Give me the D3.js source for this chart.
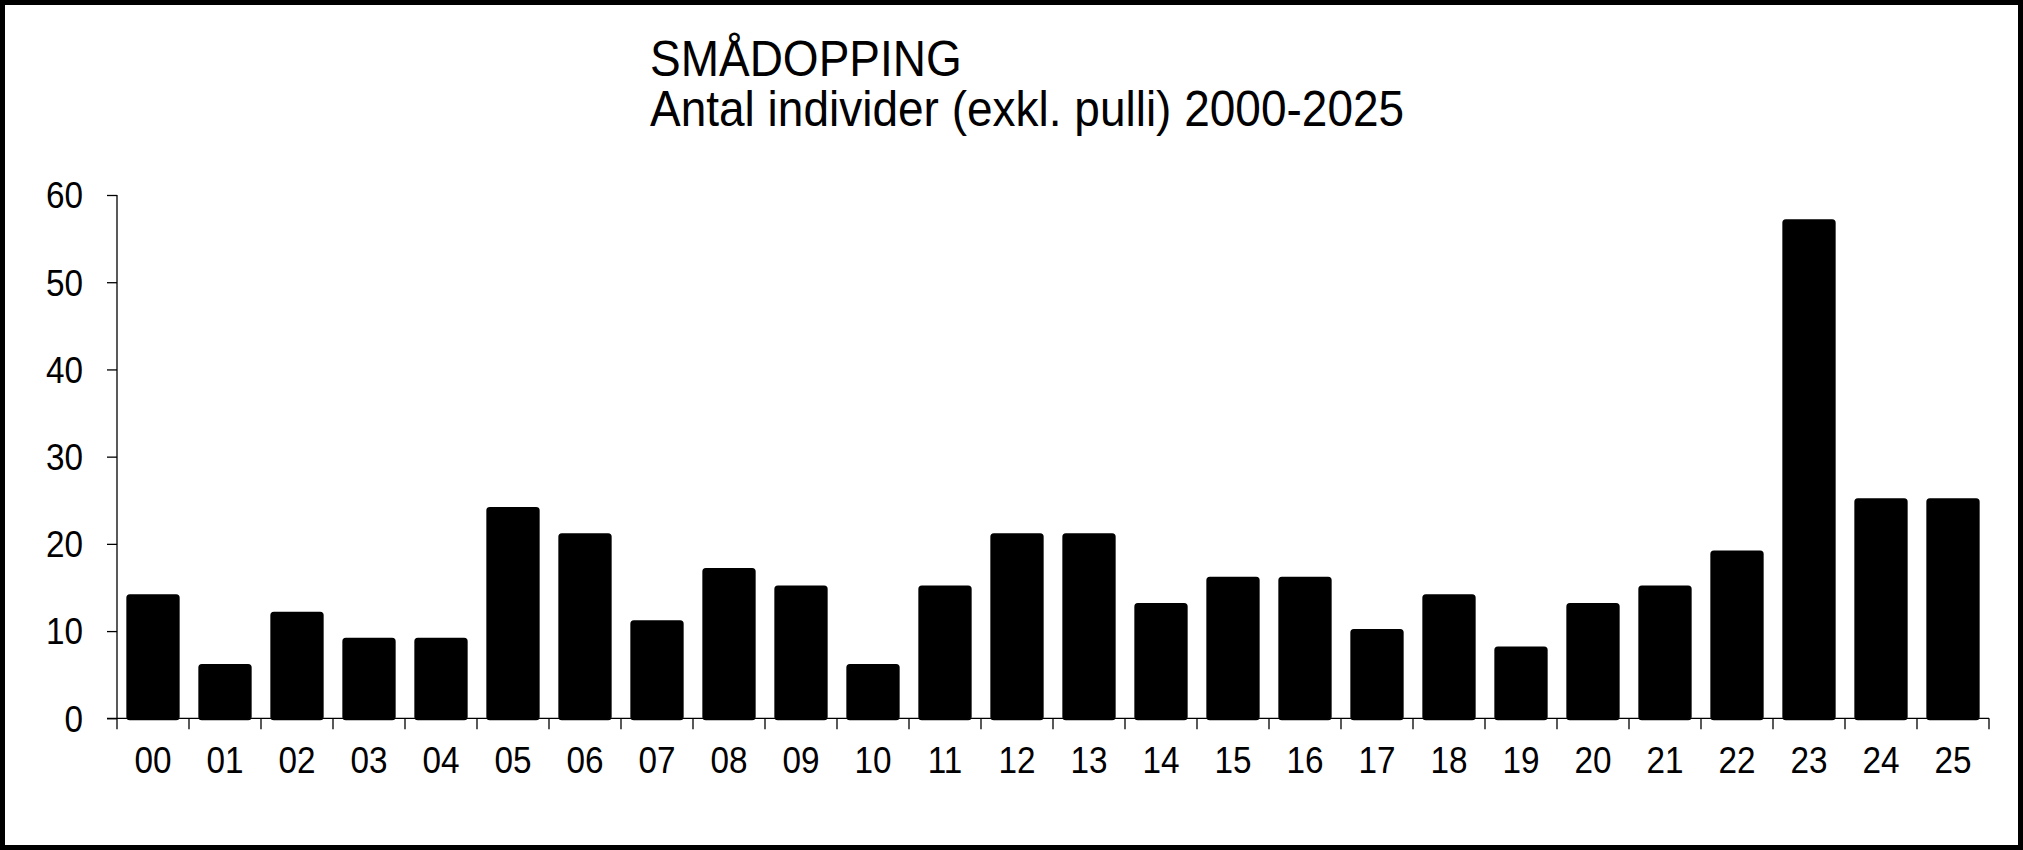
<!DOCTYPE html>
<html>
<head>
<meta charset="utf-8">
<script src="https://cdn.jsdelivr.net/npm/d3@7"></script>
<style>
  html, body { margin: 0; padding: 0; background: #fff; }
  svg { display: block; }
  text { font-family: "Liberation Sans", Arial, sans-serif; fill: #000; }
</style>
</head>
<body>
<svg id="chart" width="2023" height="850"></svg>
<script>
const categories = ["00","01","02","03","04","05","06","07","08","09","10","11","12","13","14","15","16","17","18","19","20","21","22","23","24","25"];
const values = [14, 6, 12, 9, 9, 24, 21, 11, 17, 15, 6, 15, 21, 21, 13, 16, 16, 10, 14, 8, 13, 15, 19, 57, 25, 25];
const yTicks = [0, 10, 20, 30, 40, 50, 60];
const titleLines = ["SMÅDOPPING", "Antal individer (exkl. pulli) 2000-2025"];

const W = 2023, H = 850;
const plot = { left: 117, right: 1989, top: 195, bottom: 718.3 };
const svg = d3.select("#chart");
const SX = 0.9; // horizontal compression of the glyphs

// outer frame
svg.append("rect")
  .attr("x", 2.5).attr("y", 2.5)
  .attr("width", W - 5).attr("height", H - 5)
  .attr("fill", "#fff").attr("stroke", "#000").attr("stroke-width", 5);

const x = d3.scaleBand().domain(categories).range([plot.left, plot.right]).padding(0);
const y = d3.scaleLinear().domain([0, 60]).range([plot.bottom, plot.top]);

// bars (with outline, as in the reference)
const barFrac = 0.685;
svg.append("g").selectAll("rect").data(values).join("rect")
  .attr("x", (d, i) => x(categories[i]) + x.bandwidth() * (1 - barFrac) / 2)
  .attr("width", x.bandwidth() * barFrac)
  .attr("y", d => y(d))
  .attr("height", d => y(0) - y(d))
  .attr("rx", 1.5).attr("ry", 1.5)
  .attr("fill", "#000")
  .attr("stroke", "#000").attr("stroke-width", 4).attr("stroke-linejoin", "round");

// y axis
const yAxis = svg.append("g").attr("transform", `translate(${plot.left},0)`)
  .call(d3.axisLeft(y).tickValues(yTicks).tickSize(10).tickFormat(""));
yAxis.selectAll("path, line").attr("stroke", "#000").attr("stroke-width", 1.3);
yAxis.select(".domain").attr("d", `M0,${plot.top}V${plot.bottom}`);

svg.append("g").selectAll("text").data(yTicks).join("text")
  .attr("transform", d => `translate(83,${y(d)}) scale(${SX},1)`)
  .attr("text-anchor", "end")
  .attr("dy", "0.36em")
  .style("font-size", "37px")
  .text(d => d);

// x axis
const xAxis = svg.append("g").attr("transform", `translate(0,${plot.bottom})`)
  .call(d3.axisBottom(x).tickSize(0).tickFormat(""));
xAxis.select(".domain").attr("d", `M${plot.left - 10},0H${plot.right}`)
  .attr("stroke", "#000").attr("stroke-width", 1.3);
const bounds = categories.map(c => x(c)).concat([plot.right]);
xAxis.selectAll("line.bnd").data(bounds).join("line").attr("class", "bnd")
  .attr("x1", d => d).attr("x2", d => d)
  .attr("y1", 0).attr("y2", 11)
  .attr("stroke", "#000").attr("stroke-width", 1.3);

svg.append("g").selectAll("text").data(categories).join("text")
  .attr("transform", d => `translate(${x(d) + x.bandwidth() / 2},773) scale(${SX},1)`)
  .attr("text-anchor", "middle")
  .style("font-size", "37px")
  .text(d => d);

// title
svg.append("g").selectAll("text").data(titleLines).join("text")
  .attr("transform", (d, i) => `translate(650,${76 + i * 50}) scale(0.92,1)`)
  .style("font-size", "50px")
  .text(d => d);
</script>
</body>
</html>
